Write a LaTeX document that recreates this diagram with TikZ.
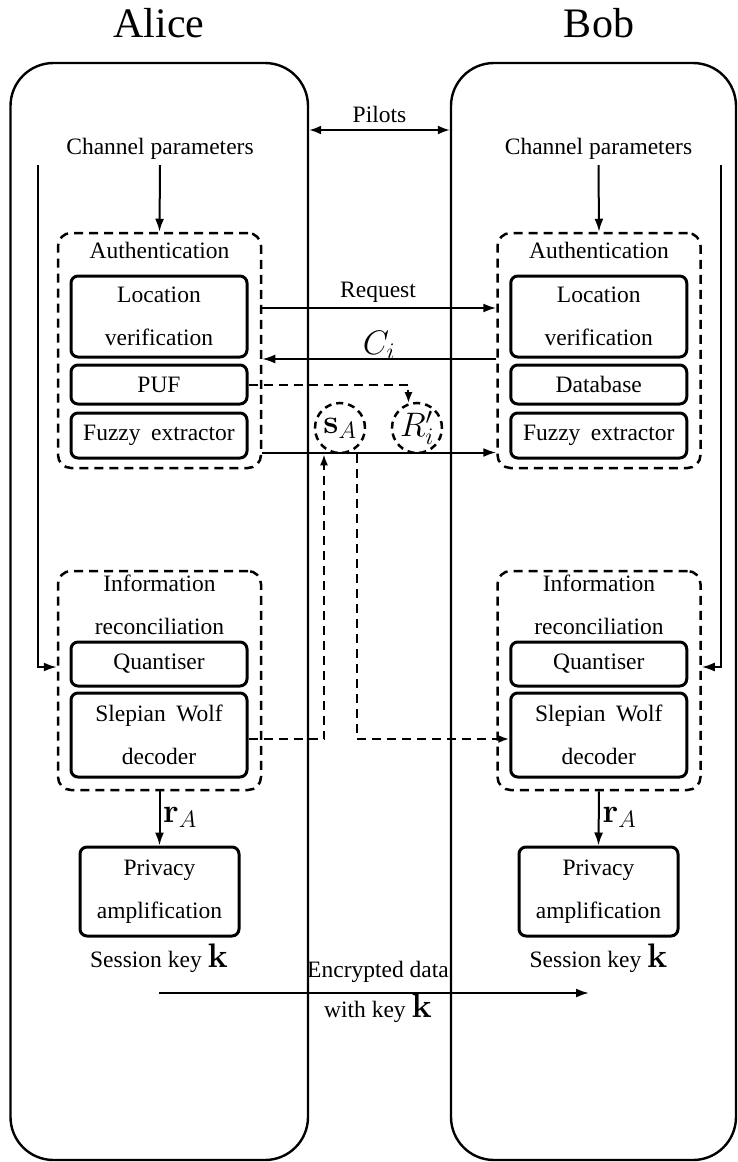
\RequirePackage{fix-cm}
\documentclass[tikz,border=0pt]{standalone}
\usepackage[no-math]{fontspec}
\setmainfont{Liberation Serif}
\usetikzlibrary{arrows.meta,calc}
% larger Computer Modern maths next to the Times text
\newcommand{\bigmath}[1]{{\fontsize{34}{34}\selectfont$#1$}}

\begin{document}
\begin{tikzpicture}[x=1pt,y=-1pt,
  txt/.style={font=\fontsize{23.5}{43}\selectfont, inner sep=0pt, align=center},
  title/.style={font=\fontsize{42}{50}\selectfont, inner sep=0pt},
  party/.style={draw, line width=2.4pt, rounded corners=43pt, inner sep=0pt},
  group/.style={draw, dash pattern=on 9pt off 6pt, line width=2.5pt, rounded corners=13pt, inner sep=0pt, minimum width=203pt},
  block/.style={draw, line width=3pt, rounded corners=7pt, inner sep=0pt, minimum width=176pt,
                font=\fontsize{23.5}{43}\selectfont, align=center},
  pblock/.style={block, minimum width=159pt},
  ring/.style={circle, draw, dash pattern=on 7pt off 5pt, line width=2.5pt, minimum size=50pt, inner sep=0pt},
  arr/.style={line width=2pt, -{Latex[length=13pt,width=9pt]}},
  biarr/.style={line width=2pt, {Latex[length=12pt,width=9pt]}-{Latex[length=12pt,width=9pt]}},
  darr/.style={line width=2pt, dash pattern=on 9pt off 6pt, -{Latex[length=11pt,width=8pt]}},
  mlbl/.style={inner sep=0pt}
]
\useasboundingbox (0,0) rectangle (738,1162);

% ---------- the two parties ----------
\node[party, minimum width=297.5pt, minimum height=1097pt] (aliceBox) at (159.25,611.5) {};
\node[party, minimum width=285pt, minimum height=1097pt] (bobBox) at (593.5,611.5) {};
\node[title, anchor=base] (alice) at (159,37) {Alice};
\node[title, anchor=base] (bob) at (599,37) {Bob};

% ---------- pilots ----------
\coordinate (pil) at (379.5,130);
\draw[biarr] (pil -| aliceBox.east) -- (pil -| bobBox.west);
\node[txt, anchor=base] (pilots) at (379.5,122) {Pilots};

% ---------- Alice ----------
\node[txt, anchor=base] (chA) at (160,154) {Channel parameters};
\node[group, minimum height=235pt] (authA) at (159.5,350.5) {};
\node[txt, anchor=base] (authAt) at (159.5,258) {Authentication};
\node[block, minimum height=81pt] (locA) at (159,316.5) {Location\\verification};
\node[block, minimum height=39pt] (pufA) at (159,384.5) {PUF};
\node[block, minimum height=45pt] (fuzA) at (159,435.5) {Fuzzy\hspace{0.45em}extractor};

\node[group, minimum height=219pt] (irA) at (159.5,680.5) {};
\node[txt] (irAt) at (159.5,604.5) {Information\\reconciliation};
\node[block, minimum height=44pt] (quantA) at (159,664) {Quantiser};
\node[block, minimum height=84pt] (swA) at (159,735) {Slepian\hspace{0.45em}Wolf\\decoder};

\node[pblock, minimum height=89pt] (privA) at (159.5,891.5) {Privacy\\amplification};
\node[txt, anchor=base] (skA) at (159,967) {Session key \bigmath{\mathbf{k}}};
\node[mlbl, anchor=base west] (rA) at (163,822) {\bigmath{\mathbf{r}_A}};

\draw[arr] (chA.south) ++(0,6) -- (authA.north);
\coordinate (lineA) at (37.6,165);
\draw[arr] (lineA) |- ([yshift=-3pt]irA.west |- quantA.west);
\draw[arr] (irA.south) -- (privA.north);

% ---------- Bob ----------
\node[txt, anchor=base] (chB) at (598.5,154) {Channel parameters};
\node[group, minimum height=235pt] (authB) at (599,350.5) {};
\node[txt, anchor=base] (authBt) at (599,258) {Authentication};
\node[block, minimum height=81pt] (locB) at (598.75,316.5) {Location\\verification};
\node[block, minimum height=39pt] (dbB) at (598.75,384.5) {Database};
\node[block, minimum height=45pt] (fuzB) at (598.75,435.5) {Fuzzy\hspace{0.45em}extractor};

\node[group, minimum height=219pt] (irB) at (599,680.5) {};
\node[txt] (irBt) at (599,604.5) {Information\\reconciliation};
\node[block, minimum height=44pt] (quantB) at (598.75,664) {Quantiser};
\node[block, minimum height=84pt] (swB) at (598.75,735) {Slepian\hspace{0.45em}Wolf\\decoder};

\node[pblock, minimum height=89pt] (privB) at (598.5,891.5) {Privacy\\amplification};
\node[txt, anchor=base] (skB) at (598.5,967) {Session key \bigmath{\mathbf{k}}};
\node[mlbl, anchor=base west] (rB) at (602.5,822) {\bigmath{\mathbf{r}_A}};

\draw[arr] (chB.south) ++(0,6) -- (authB.north);
\coordinate (lineB) at (721,165);
\draw[arr] (lineB) |- ([yshift=-3pt]irB.east |- quantB.east);
\draw[arr] (irB.south) -- (privB.north);

% ---------- authentication exchange ----------
\coordinate (req) at (379,308);
\coordinate (chal) at (379,359);
\coordinate (helper) at (379,452.5);
\draw[arr] (authA.east |- req) -- (authB.west |- req);
\node[txt, anchor=base] (reqt) at (378,297) {Request};
\draw[arr] (authB.west |- chal) -- (authA.east |- chal);
\node[mlbl, anchor=base] (cit) at (379,354) {\bigmath{C_i}};
\draw[arr] (authA.east |- helper) -- (authB.west |- helper);

\node[ring] (sA) at (340,428) {};
\node[mlbl] (sAt) at (sA) {\bigmath{\mathbf{s}_A}};
\node[ring] (Ri) at (417,428) {};
\node[mlbl] (Rit) at (Ri) {\bigmath{R'_i}};

\draw[darr] (pufA.east) -| (Ri.109);
\draw[darr] ([yshift=-4pt]swA.east) -| ([xshift=-16pt]sA.south);
\draw[darr] ([xshift=17pt]sA.south) |- ([yshift=-4pt]swB.west);

% ---------- encrypted data ----------
\coordinate (encS) at (159,993);
\coordinate (encE) at (589,993);
\draw[arr] (encS) -- (encE);
\node[txt, font=\fontsize{23.5}{40}\selectfont] (enc) at (378,992) {Encrypted data\\with key \bigmath{\mathbf{k}}};

\end{tikzpicture}
\end{document}
